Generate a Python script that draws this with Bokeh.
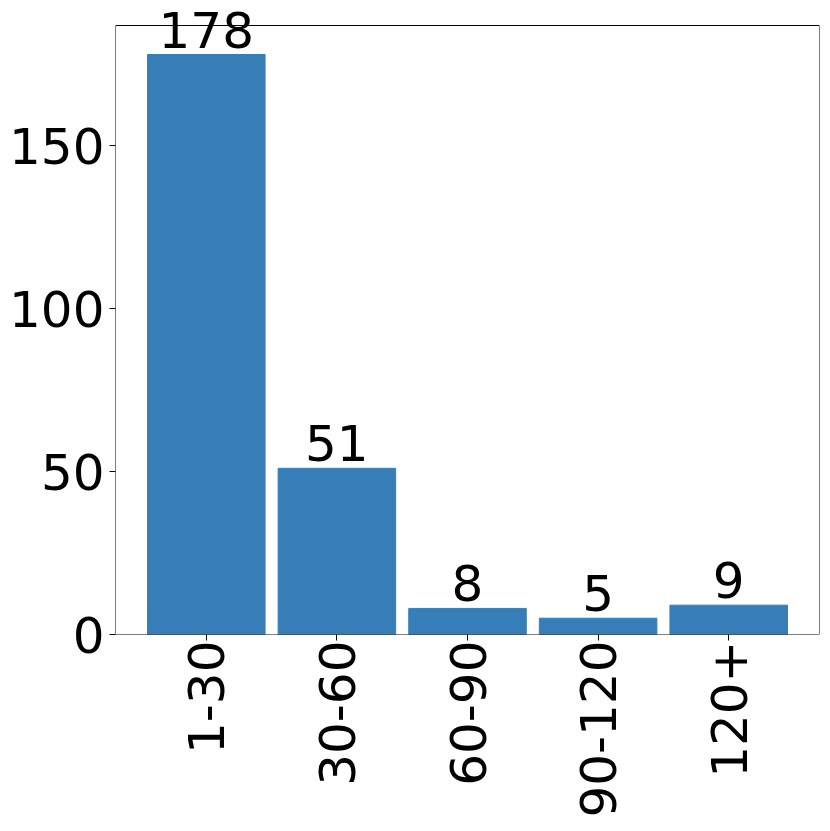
import math
from bokeh.plotting import figure
from bokeh.models import ColumnDataSource, FactorRange, Range1d, FixedTicker, LabelSet, BoxAnnotation
from bokeh.core.properties import value
from bokeh.embed import file_html
from bokeh.resources import INLINE

categories = ["1-30", "30-60", "60-90", "90-120", "120+"]
counts = [178, 51, 8, 5, 9]
y_ticks = [0, 50, 100, 150]

src = ColumnDataSource(dict(cat=categories, n=counts, lbl=[str(c) for c in counts]))

y_top = max(counts) * 1.05          # top of the axes box (matplotlib-style 5% margin)
box_h = 609                          # axes box height in px
extra = 17                           # room above the box for the value labels
y_end = y_top + extra * y_top / box_h

p = figure(
    x_range=FactorRange(factors=categories, range_padding=0.195, range_padding_units="absolute"),
    y_range=Range1d(0, y_end),
    frame_width=704, frame_height=box_h + extra,
    min_border_left=115, min_border_top=8, min_border_right=8, min_border_bottom=8,
    output_backend="svg", toolbar_location=None,
)
p.vbar(x="cat", top="n", width=0.9, source=src, fill_color="#377eb8", line_color="#377eb8")
labels = LabelSet(x="cat", y="n", text="lbl", source=src, text_align="center",
                  text_baseline="alphabetic", y_offset=7, text_font=value("DejaVu Sans"),
                  text_font_size="50px", text_color="black")
p.add_layout(labels)
p.add_layout(BoxAnnotation(bottom=0, top=y_top, fill_alpha=0, line_color="black",
                           line_width=1, line_alpha=1))

p.xgrid.visible = False
p.ygrid.visible = False
p.outline_line_color = None

p.yaxis.ticker = FixedTicker(ticks=y_ticks)
for ax in (p.xaxis[0], p.yaxis[0]):
    ax.major_label_text_font = "DejaVu Sans"
    ax.major_label_text_font_size = "50px"
    ax.major_label_text_color = "black"
    ax.axis_line_color = None
    ax.major_tick_line_color = "black"
    ax.major_tick_out = 6
    ax.major_tick_in = 0
    ax.minor_tick_out = 0
    ax.minor_tick_in = 0
    ax.major_label_standoff = 5
p.xaxis.major_label_standoff = 0
p.xaxis.major_label_orientation = math.pi / 2

open("out.html", "w").write(file_html(p, INLINE))
